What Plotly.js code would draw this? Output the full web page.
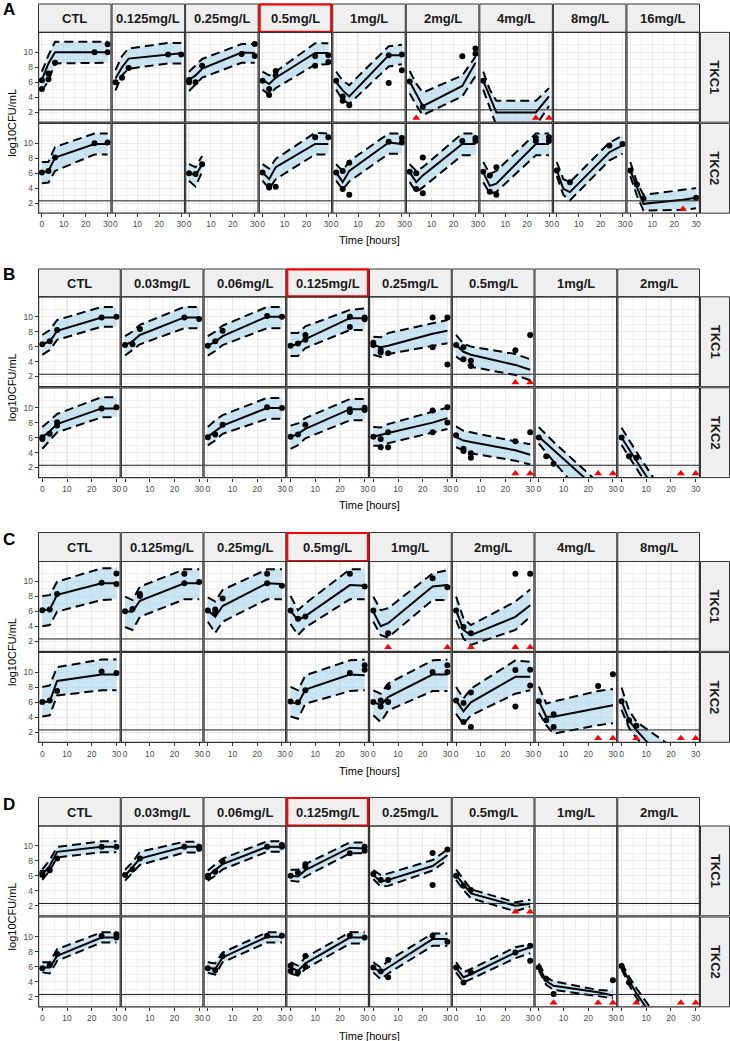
<!DOCTYPE html>
<html><head><meta charset="utf-8">
<script src="https://cdn.plot.ly/plotly-3.0.1.min.js"></script>
<style>html,body{margin:0;padding:0;background:#fff}#chart{width:730px;height:1041px}</style>
</head><body><div id="chart"></div>
<script>
// ---------------- DATA ----------------
const times = [0, 3, 6, 24, 30];
const LOQ = 2.3, BLQ_Y = 1.2;
const rowLabels = ["TKC1", "TKC2"];
const xTicks = [0, 10, 20, 30], xMinor = [5, 15, 25];
const yTicks = [2, 4, 6, 8, 10], yMinor = [1, 3, 5, 7, 9, 11];
const xTitle = "Time [hours]", yTitle = "log10CFU/mL";

// Panel A
const A_conc = ["CTL","0.125mg/L","0.25mg/L","0.5mg/L","1mg/L","2mg/L","4mg/L","8mg/L","16mg/L"];
const A_highlight = "0.5mg/L";
const A1_med = [[6.3,8.5,10.0,10.0,10.0],[6.5,8.0,9.15,9.7,9.85],[6.3,6.9,7.8,9.95,9.9],[6.3,5.75,6.6,9.9,9.9],[6.0,4.9,4.1,9.6,9.6],[6.1,4.45,2.8,5.5,8.6],[6.2,4.0,1.95,1.95,4.1],null,null];
const A1_lo  = [[4.85,6.2,8.5,8.6,8.6],[4.9,6.9,7.8,8.5,8.5],[4.8,5.7,6.6,8.6,8.6],[5.0,4.3,5.2,8.35,8.4],[5.0,3.6,3.1,8.1,8.4],[4.5,2.9,1.6,4.1,6.8],[5.0,2.6,0.2,0.2,2.8],null,null];
const A1_hi  = [[7.4,9.6,11.4,11.4,11.4],[7.6,9.5,10.5,11.25,11.25],[7.4,8.3,9.1,11.1,11.1],[7.4,6.9,7.4,11.2,11.2],[7.4,6.2,5.6,10.8,11.0],[7.5,5.8,4.6,6.9,9.4],[7.4,5.0,3.5,3.5,5.2],null,null];
const A1_obs = [
  [[0,5.07],[0,6.27],[3,6.4],[3,7.15],[6,8.6],[24,10.0],[30,11.07],[30,10.0]],
  [[0,6.0],[3,6.6],[6,7.9],[24,9.7],[30,9.7]],
  [[0,6.3],[0,6.0],[3,6.0],[6,8.2],[24,9.75],[30,11.1],[30,9.5]],
  [[0,6.2],[3,5.1],[3,4.3],[6,7.5],[6,6.9],[24,8.2],[24,9.5],[30,9.6],[30,8.7]],
  [[0,6.2],[3,4.1],[3,3.5],[6,2.9],[24,9.6],[24,5.9],[30,9.7],[30,7.6]],
  [[0,6.1],[6,2.7],[24,9.45],[30,10.5],[30,9.8]],
  [[0,6.2]],
  [], []];
const A1_blq = [[],[],[],[],[],[3],[24,30],[],[]];
const A2_med = [[6.1,6.3,8.1,9.9,9.9],null,[6.1,5.7,7.2,null,null],[6.1,5.2,6.8,9.9,9.9],[6.1,4.8,6.3,10.1,9.9],[6.1,4.8,5.7,9.9,9.9],[6.1,4.3,4.6,9.9,9.9],[6.36,3.9,3.47,8.8,9.7],[6.36,4.1,1.9,2.45,2.7]];
const A2_lo  = [[4.65,4.75,6.3,8.5,8.5],null,[5.0,4.2,6.2,null,null],[5.0,3.9,5.2,8.5,8.5],[5.0,3.8,4.9,8.6,8.6],[4.8,3.5,4.1,8.4,8.4],[4.8,3.3,3.5,8.4,8.4],[5.6,3.1,2.36,7.7,8.6],[5.6,3.0,1.0,1.1,1.3]];
const A2_hi  = [[7.5,7.5,9.5,11.3,11.3],null,[7.2,6.8,8.3,null,null],[7.2,6.6,7.9,11.4,11.3],[7.2,6.3,7.6,11.3,11.3],[7.2,6.3,6.8,11.3,11.3],[7.5,5.9,6.3,11.3,11.3],[7.47,5.2,4.8,10.1,11.0],[7.5,4.8,3.1,3.8,4.0]];
const A2_obs = [
  [[0,6.1],[3,6.3],[6,8.1],[24,10.0],[30,10.1]],
  [],
  [[0,6.0],[3,5.9],[6,7.2]],
  [[0,6.1],[3,4.3],[3,4.1],[6,4.2],[24,10.8],[30,10.8]],
  [[0,6.1],[3,6.3],[3,3.9],[6,7.4],[6,3.1],[24,10.2],[30,10.7],[30,10.1]],
  [[0,6.2],[3,6.0],[3,3.9],[6,8.1],[6,3.3],[24,10.3],[30,10.7],[30,10.3]],
  [[0,6.2],[3,5.7],[3,3.5],[6,6.8],[6,3.1],[24,10.7],[24,10.3],[30,10.8],[30,10.3]],
  [[0,6.36],[6,4.8],[24,9.7],[30,9.9]],
  [[0,6.36],[3,4.5],[6,2.6],[30,2.7]]];
const A2_blq = [[],[],[],[],[],[],[],[],[24]];

// Panel B
const B_conc = ["CTL","0.03mg/L","0.06mg/L","0.125mg/L","0.25mg/L","0.5mg/L","1mg/L","2mg/L"];
const B_highlight = "0.125mg/L";
const B1_med = [[6.35,6.67,8.1,9.87,9.87],[6.2,6.7,7.55,9.9,9.9],[6.1,6.67,7.4,10.0,10.0],[6.1,6.35,7.0,9.8,9.8],[6.2,5.9,6.1,7.7,8.1],[6.2,5.3,4.9,3.55,2.9],null,null];
const B1_lo  = [[4.9,5.55,6.9,8.65,8.65],[4.8,5.5,6.3,8.45,8.45],[4.8,5.4,6.2,8.45,8.45],[4.75,4.75,5.8,8.2,8.2],[4.9,4.6,5.0,6.1,6.45],[4.65,4.0,3.3,2.2,1.5],null,null];
const B1_hi  = [[7.55,8.2,9.55,11.3,11.3],[7.4,8.0,8.9,11.3,11.3],[7.4,8.0,8.8,11.3,11.3],[7.8,7.8,8.7,10.9,11.1],[7.3,7.25,7.8,9.1,9.55],[7.55,6.4,6.0,5.0,4.3],null,null];
const B1_obs = [
  [[0,6.3],[3,6.7],[6,8.2],[24,9.9],[30,10.0]],
  [[0,6.2],[3,6.3],[6,8.35],[24,9.9],[30,9.7]],
  [[0,6.1],[3,6.7],[6,8.1],[24,10.1],[30,10.0]],
  [[0,6.1],[3,6.4],[6,7.55],[6,6.9],[24,10.0],[24,8.6],[30,9.9],[30,9.65]],
  [[0,6.5],[0,6.2],[3,5.55],[3,5.2],[6,5.1],[24,9.9],[24,5.9],[30,9.9],[30,3.6]],
  [[0,6.2],[3,5.9],[3,4.3],[6,4.1],[6,3.4],[24,5.5],[30,7.55]],
  [], []];
const B1_blq = [[],[],[],[],[],[24,30],[],[]];
const B2_med = [[6.05,6.85,7.8,9.9,9.9],null,[6.1,6.85,7.6,9.95,9.95],[6.1,6.5,7.15,9.8,9.8],[6.1,6.3,6.6,8.0,8.6],[6.05,5.6,5.4,4.3,3.7],[6.1,5.2,4.3,-1.0,-2.7],[6.0,4.4,2.9,-6.3,-9.3]];
const B2_lo  = [[4.5,5.6,6.7,8.7,8.7],null,[4.95,5.6,6.5,8.5,8.5],[4.5,5.0,5.9,8.3,8.3],[4.9,4.9,5.25,6.7,7.15],[4.7,4.3,3.9,2.9,2.4],[5.2,4.0,2.8,-4.0,-6.0],[5.0,3.4,1.9,-7.5,-10.5]];
const B2_hi  = [[7.4,8.3,9.15,11.4,11.4],null,[7.4,8.3,9.0,11.3,11.3],[7.6,7.9,8.6,11.15,11.15],[7.4,7.35,7.8,9.4,10.0],[7.5,6.9,6.7,5.5,5.1],[7.4,6.4,5.4,0.0,-2.0],[7.3,5.7,4.1,-5.0,-8.0]];
const B2_obs = [
  [[0,5.8],[0,6.05],[3,6.5],[6,7.6],[6,8.05],[24,9.9],[30,10.05]],
  [],
  [[0,6.05],[3,6.4],[6,7.7],[24,10.05],[30,9.95]],
  [[0,6.1],[3,6.4],[6,7.7],[24,9.8],[24,9.4],[30,10.0],[30,9.7]],
  [[0,6.1],[3,5.8],[3,4.7],[6,6.7],[6,4.7],[24,9.6],[24,6.7],[30,10.05],[30,8.0]],
  [[0,6.3],[3,4.5],[3,4.2],[6,3.9],[6,3.3],[24,5.5],[30,6.7]],
  [[0,6.0],[3,3.5],[6,2.5]],
  [[0,6.0],[3,3.5],[6,3.3]]];
const B2_blq = [[],[],[],[],[],[24,30],[24,30],[24,30]];

// Panel C
const C_conc = ["CTL","0.125mg/L","0.25mg/L","0.5mg/L","1mg/L","2mg/L","4mg/L","8mg/L"];
const C_highlight = "0.5mg/L";
const C1_med = [[6.15,6.25,8.2,9.75,9.75],[6.0,5.95,7.4,9.75,9.75],[6.1,5.25,6.7,9.75,9.65],[6.1,4.8,5.35,9.5,9.4],[5.95,4.0,4.4,9.3,9.5],[6.15,3.5,2.8,5.25,6.8],null,null];
const C1_lo  = [[4.0,4.15,5.95,7.5,7.6],[3.9,3.5,5.25,7.6,7.6],[4.6,3.1,4.6,7.6,7.6],[4.3,2.8,3.85,7.6,7.6],[4.6,2.8,2.5,7.5,7.5],[4.8,2.35,1.5,3.5,5.25],null,null];
const C1_hi  = [[8.05,8.15,9.95,11.75,11.75],[7.95,7.5,9.3,11.6,11.6],[7.85,7.3,8.85,11.6,11.6],[8.05,6.15,7.05,11.6,11.6],[7.95,6.15,6.4,11.05,11.5],[7.95,5.05,4.15,7.3,8.9],null,null];
const C1_obs = [
  [[0,6.15],[3,6.25],[6,8.3],[24,9.8],[30,11.05],[30,9.65]],
  [[0,6.0],[3,6.3],[6,8.05],[6,8.3],[24,11.0],[24,9.75],[30,9.9]],
  [[0,6.1],[3,6.25],[3,5.8],[6,7.7],[24,11.0],[24,9.75],[30,9.4]],
  [[0,6.1],[3,5.0],[6,5.3],[24,11.0],[30,9.3]],
  [[0,6.1],[6,3.05],[24,10.4],[30,9.2]],
  [[0,6.1],[3,3.9],[6,3.05],[24,11.0],[30,11.0]],
  [], []];
const C1_blq = [[],[],[],[],[6,30],[6,24,30],[],[]];
const C2_med = [[6.05,6.1,8.85,9.7,9.7],null,null,[6.05,5.8,7.7,9.7,9.6],[6.05,5.6,6.7,9.7,9.7],[6.25,4.8,6.0,9.4,9.4],[6.15,4.06,4.06,5.27,5.6],[6.15,3.6,2.27,-4.3,-6.5]];
const C2_lo  = [[4.1,4.25,6.9,7.6,7.6],null,null,[4.1,3.8,5.8,7.5,7.6],[4.25,3.35,4.9,7.5,7.5],[4.45,3.1,4.25,7.15,7.6],[4.6,2.94,1.8,2.94,3.2],[5.0,2.6,1.2,-5.0,-7.0]];
const C2_hi  = [[8.05,8.25,10.7,11.7,11.7],null,null,[8.05,7.6,9.6,11.6,11.7],[7.6,7.15,8.5,11.6,11.7],[8.05,6.5,7.8,11.6,11.4],[8.08,5.84,6.1,7.5,7.77],[7.95,4.95,3.4,-0.8,-2.2]];
const C2_obs = [
  [[0,6.05],[3,6.25],[6,7.5],[24,10.1],[30,9.9]],
  [], [],
  [[0,6.1],[3,6.0],[6,7.6],[24,9.9],[30,10.95],[30,10.35]],
  [[0,6.05],[3,6.25],[3,5.45],[6,8.05],[6,6.05],[24,10.05],[30,10.95],[30,10.05]],
  [[0,6.25],[3,5.9],[3,3.35],[6,7.3],[6,2.7],[24,10.3],[24,5.45],[30,10.35],[30,8.25]],
  [[0,6.15],[3,3.6],[6,4.4],[6,2.7],[24,8.16],[30,9.73]],
  [[0,6.15],[3,3.6],[6,2.85]]];
const C2_blq = [[],[],[],[],[],[],[24,30],[6,24,30]];

// Panel D
const D_conc = ["CTL","0.03mg/L","0.06mg/L","0.125mg/L","0.25mg/L","0.5mg/L","1mg/L","2mg/L"];
const D_highlight = "0.125mg/L";
const D1_med = [[6.2,7.3,9.2,9.87,9.87],[6.0,7.1,8.3,9.87,9.87],[6.0,6.75,7.55,9.87,9.87],[6.0,5.9,6.75,9.75,9.65],[6.1,5.2,5.45,7.3,8.75],[6.1,4.8,3.65,2.0,2.25],null,null];
const D1_lo  = [[5.45,6.7,8.45,9.15,9.15],[5.35,6.4,7.45,9.1,9.1],[5.35,6.0,6.85,9.2,9.2],[5.35,5.2,5.9,9.0,9.0],[5.55,4.55,4.65,6.7,8.1],[5.45,4.1,3.0,1.25,1.9],null,null];
const D1_hi  = [[6.85,8.1,9.85,10.6,10.6],[6.8,7.8,9.2,10.55,10.55],[6.7,7.45,8.3,10.6,10.6],[6.8,6.8,7.55,10.45,10.45],[6.75,6.1,6.3,8.1,9.5],[6.85,5.55,4.2,2.45,2.8],null,null];
const D1_obs = [
  [[0,6.1],[0,6.4],[3,6.75],[6,8.3],[24,9.87],[30,9.87]],
  [[0,6.1],[3,6.85],[6,8.3],[24,9.87],[30,9.87],[30,9.6]],
  [[0,6.0],[0,5.8],[3,6.55],[6,7.9],[24,9.87],[30,10.1],[30,9.87]],
  [[0,6.0],[3,6.4],[6,7.55],[6,7.2],[24,9.0],[30,9.87],[30,9.35]],
  [[0,6.25],[3,5.45],[6,5.45],[24,9.05],[24,4.75],[30,9.5]],
  [[0,6.0],[3,4.65],[6,4.1]],
  [], []];
const D1_blq = [[],[],[],[],[],[24,30],[],[]];
const D2_med = [[5.9,5.9,7.45,9.9,9.9],null,[5.9,5.7,7.25,10.0,10.0],[5.9,5.45,6.45,9.9,9.9],[5.9,5.25,5.9,9.7,9.7],[5.9,4.6,5.0,7.9,8.6],[6.0,4.1,3.45,2.6,2.15],[6.1,4.15,2.45,-6.1,-9.0]];
const D2_lo  = [[5.25,5.1,6.8,9.25,9.25],null,[5.2,4.95,6.6,9.25,9.25],[5.1,4.8,5.7,9.1,9.1],[5.25,4.35,5.1,8.8,8.8],[5.25,3.9,4.35,7.15,7.8],[5.5,3.6,2.9,2.0,1.8],[5.7,3.6,1.9,-7.0,-10.0]];
const D2_hi  = [[6.6,6.6,8.35,10.6,10.6],null,[6.6,6.45,7.9,10.6,10.6],[6.6,6.15,7.25,10.6,10.6],[6.6,5.9,6.8,10.45,10.45],[6.6,5.25,5.7,8.6,9.0],[6.45,4.6,4.05,2.9,2.8],[6.5,4.7,3.15,-5.0,-8.0]];
const D2_obs = [
  [[0,5.8],[3,6.25],[6,7.7],[24,10.1],[30,10.35],[30,9.9]],
  [],
  [[0,5.8],[3,5.55],[6,7.45],[24,10.15],[30,10.15]],
  [[0,6.15],[0,5.45],[3,5.25],[6,7.45],[6,6.0],[24,10.15],[30,9.9]],
  [[0,5.9],[3,5.4],[6,6.9],[6,4.6],[24,10.15],[30,9.35]],
  [[0,5.9],[3,3.9],[6,5.25],[24,7.9],[30,8.8],[30,6.8]],
  [[0,5.9],[3,4.35],[6,2.35],[30,4.2]],
  [[0,6.1],[3,3.9]]];
const D2_blq = [[],[],[],[],[],[],[6,24,30],[6,24,30]];

// ---------------- LAYOUT / BUILD ----------------
const W = 730, H = 1041;
const XR = [-1.5, 31.5], YR = [0.65, 12.65];
const FONT = "Liberation Sans, Arial, Helvetica, sans-serif";
const RIB = "rgba(150,205,235,0.5)";
const PL = 38, PR = 700;
const BORDER = "#333333";

const panels = [
  {letter:"A", conc:A_conc, hl:A_highlight, rows:[
    {med:A1_med,lo:A1_lo,hi:A1_hi,obs:A1_obs,blq:A1_blq},
    {med:A2_med,lo:A2_lo,hi:A2_hi,obs:A2_obs,blq:A2_blq}],
   g:{stripTop:4, r:[[32.4,122.2],[123.4,213.2]], titleY:240, letterY:9}},
  {letter:"B", conc:B_conc, hl:B_highlight, rows:[
    {med:B1_med,lo:B1_lo,hi:B1_hi,obs:B1_obs,blq:B1_blq},
    {med:B2_med,lo:B2_lo,hi:B2_hi,obs:B2_obs,blq:B2_blq}],
   g:{stripTop:269, r:[[296.8,386.6],[387.8,477.6]], titleY:505.5, letterY:274}},
  {letter:"C", conc:C_conc, hl:C_highlight, rows:[
    {med:C1_med,lo:C1_lo,hi:C1_hi,obs:C1_obs,blq:C1_blq},
    {med:C2_med,lo:C2_lo,hi:C2_hi,obs:C2_obs,blq:C2_blq}],
   g:{stripTop:532.5, r:[[561.5,651.3],[652.5,742.3]], titleY:770.5, letterY:539}},
  {letter:"D", conc:D_conc, hl:D_highlight, rows:[
    {med:D1_med,lo:D1_lo,hi:D1_hi,obs:D1_obs,blq:D1_blq},
    {med:D2_med,lo:D2_lo,hi:D2_hi,obs:D2_obs,blq:D2_blq}],
   g:{stripTop:797.5, r:[[826,915.8],[917,1006.8]], titleY:1035.5, letterY:804}}
];

const traces = [], shapes = [], annotations = [];
const layout = {width:W, height:H, margin:{l:0,r:0,t:0,b:0}, paper_bgcolor:"#fff", plot_bgcolor:"rgba(0,0,0,0)",
  showlegend:false, hovermode:false, font:{family:FONT}};

function fx(px){return px/W;}
function fy(py){return 1 - py/H;}
function rect(x0,y0,x1,y1,fill,lc,lw){
  return {type:"rect", xref:"paper", yref:"paper", x0:fx(x0), x1:fx(x1), y0:fy(y1), y1:fy(y0),
    fillcolor:fill, line:{color:lc,width:lw}, layer:"above"};
}

function facet(med, lo, hi, obs, blq, xid, yid){
  const base = {type:"scatter", xaxis:xid, yaxis:yid, hoverinfo:"skip"};
  if (med) {
    const idx = times.map((t,i)=>i).filter(i=>med[i]!==null);
    const rev = idx.slice().reverse();
    traces.push(Object.assign({}, base, {mode:"lines",
      x: idx.map(i=>times[i]).concat(rev.map(i=>times[i])),
      y: idx.map(i=>hi[i]).concat(rev.map(i=>lo[i])),
      fill:"toself", fillcolor:RIB, line:{width:0}}));
  }
  shapes.push({type:"line", xref:xid+" domain", yref:yid, x0:0, x1:1, y0:LOQ, y1:LOQ,
    line:{color:"#1a1a1a", width:1}, layer:"above"});
  if (med) {
    [lo, hi].forEach(arr => traces.push(Object.assign({}, base, {mode:"lines", x:times, y:arr,
      line:{color:"#000", width:2, dash:"9px,5px"}})));
    traces.push(Object.assign({}, base, {mode:"lines", x:times, y:med, line:{color:"#000", width:2}}));
  }
  if (obs.length) traces.push(Object.assign({}, base, {mode:"markers",
    x:obs.map(p=>p[0]), y:obs.map(p=>p[1]), marker:{size:6, color:"#000"}}));
  if (blq.length) traces.push(Object.assign({}, base, {mode:"markers",
    x:blq, y:blq.map(()=>BLQ_Y), marker:{symbol:"triangle-up", size:7, color:"#ff0000"}}));
}

let k = 0;
panels.forEach(P => {
  const n = P.conc.length, w = (PR-PL)/n, g = P.g;
  annotations.push({text:"<b>"+P.letter+"</b>", x:fx(1), y:fy(g.letterY), xref:"paper", yref:"paper",
    xanchor:"left", yanchor:"middle", showarrow:false, font:{size:17, color:"#000", family:FONT}});
  P.conc.forEach((lab, c) => {
    const x0 = PL + c*w, x1 = x0 + w;
    shapes.push(rect(x0+0.5, g.stripTop, x1-0.5, g.r[0][0], "#efefef", BORDER, 1));
    if (lab === P.hl) shapes.push(rect(x0+1, g.stripTop+0.5, x1-1, g.r[0][0]-0.5, "rgba(0,0,0,0)", "#ff0000", 2.2));
    annotations.push({text:"<b>"+lab+"</b>", x:fx((x0+x1)/2), y:fy((g.stripTop+g.r[0][0])/2+0.5),
      xref:"paper", yref:"paper", xanchor:"center", yanchor:"middle", showarrow:false,
      font:{size:13, color:"#1a1a1a", family:FONT}});
  });
  annotations.push({text:xTitle, x:fx((PL+PR)/2), y:fy(g.titleY), xref:"paper", yref:"paper",
    xanchor:"center", yanchor:"middle", showarrow:false, font:{size:11, color:"#000", family:FONT}});
  annotations.push({text:yTitle, x:fx(12), y:fy((g.r[0][0]+g.r[1][1])/2), xref:"paper", yref:"paper",
    xanchor:"center", yanchor:"middle", textangle:-90, showarrow:false, font:{size:11, color:"#000", family:FONT}});
  P.rows.forEach((R, r) => {
    const rg = g.r[r];
    shapes.push(rect(700.5, rg[0], 729.5, rg[1], "#efefef", BORDER, 1));
    annotations.push({text:"<b>"+rowLabels[r]+"</b>", x:fx(715), y:fy((rg[0]+rg[1])/2), xref:"paper", yref:"paper",
      xanchor:"center", yanchor:"middle", textangle:90, showarrow:false, font:{size:13, color:"#1a1a1a", family:FONT}});
    for (let c = 0; c < n; c++) {
      k++;
      const xid = k===1 ? "x" : "x"+k, yid = k===1 ? "y" : "y"+k;
      const x0 = PL + c*w, x1 = x0 + w;
      const bottom = (r === 1), left = (c === 0);
      layout[k===1?"xaxis":"xaxis"+k] = {domain:[fx(x0+0.6), fx(x1-0.6)], anchor:yid, range:XR,
        tickmode:"array", tickvals:xTicks, showticklabels:bottom, ticks:bottom?"outside":"", ticklen:3,
        tickwidth:1, tickcolor:BORDER, tickfont:{size:8.5, color:"#4d4d4d", family:FONT},
        showgrid:true, gridcolor:"#ebebeb", gridwidth:1.1,
        minor:{tickmode:"array", tickvals:xMinor, showgrid:true, gridcolor:"#ebebeb", gridwidth:0.7, ticks:""},
        showline:false, zeroline:false, fixedrange:true, automargin:false};
      layout[k===1?"yaxis":"yaxis"+k] = {domain:[fy(rg[1]), fy(rg[0])], anchor:xid, range:YR,
        tickmode:"array", tickvals:yTicks, showticklabels:left, ticks:left?"outside":"", ticklen:3,
        tickwidth:1, tickcolor:BORDER, tickfont:{size:8.5, color:"#4d4d4d", family:FONT},
        showgrid:true, gridcolor:"#ebebeb", gridwidth:1.1,
        minor:{tickmode:"array", tickvals:yMinor, showgrid:true, gridcolor:"#ebebeb", gridwidth:0.7, ticks:""},
        showline:false, zeroline:false, fixedrange:true, automargin:false};
      facet(R.med[c], R.lo[c], R.hi[c], R.obs[c], R.blq[c], xid, yid);
      // panel border
      shapes.push(rect(x0+0.6, rg[0], x1-0.6, rg[1], "rgba(0,0,0,0)", BORDER, 1.2));
    }
  });
});

layout.shapes = shapes;
layout.annotations = annotations;
Plotly.newPlot("chart", traces, layout, {staticPlot:true, displayModeBar:false});
</script>
</body></html>
